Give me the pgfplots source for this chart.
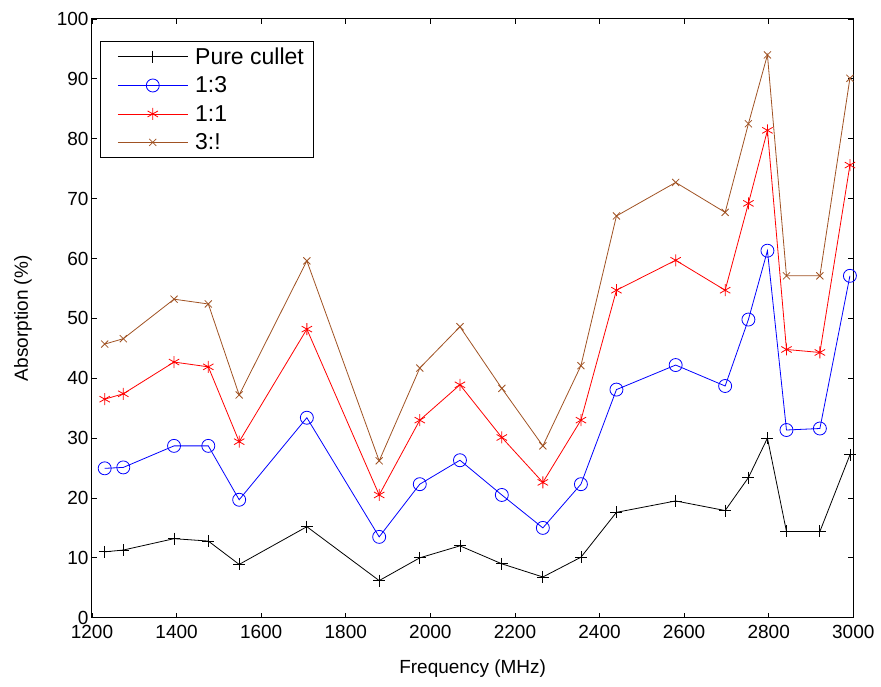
\documentclass[border=0pt]{standalone}
\usepackage{pgfplots}
\usepackage{pgfplotstable}
\pgfplotsset{compat=1.18}
\usepackage{fontspec}
\setmainfont{Liberation Sans}
\definecolor{brownc}{RGB}{160,82,35}
\pgfplotstableread{
f     pure   a    b    c
1230  11.0  24.95 36.5 45.7
1274  11.3  25.1  37.4 46.6
1394  13.2  28.7  42.7 53.2
1475  12.8  28.7  41.9 52.4
1548  8.9   19.7  29.4 37.2
1708  15.2  33.4  48.2 59.6
1879  6.2   13.5  20.5 26.2
1975  10.0  22.3  33.0 41.7
2070  12.0  26.3  38.9 48.6
2169  9.0   20.5  30.1 38.3
2266  6.8   15.0  22.6 28.7
2356  10.1  22.3  33.0 42.1
2440  17.6  38.1  54.7 67.1
2580  19.5  42.2  59.7 72.7
2697  17.9  38.7  54.7 67.7
2752  23.4  49.8  69.2 82.5
2797  30.0  61.3  81.4 94.0
2842  14.4  31.35 44.8 57.1
2921  14.4  31.6  44.3 57.1
2992  27.2  57.1  75.6 90.1
}\datatable
\begin{document}
\begin{tikzpicture}
\begin{axis}[
  scale only axis,
  width=761.3pt, height=598.7pt,
  xmin=1200, xmax=3000, ymin=0, ymax=100,
  xtick={1200,1400,...,3000},
  ytick={0,10,...,100},
  tick align=inside,
  major tick length=5pt,
  tick style={black, line width=0.8pt},
  axis line style={line width=1pt},
  /pgf/number format/assume math mode=true,
  /pgf/number format/set thousands separator={},
  tick label style={font=\fontsize{19}{22}\selectfont},
  xticklabel style={yshift=-4pt},
  label style={font=\fontsize{19}{22}\selectfont},
  xlabel={Frequency (MHz)},
  ylabel={Absorption (\%)},
  xlabel style={yshift=-14pt},
  ylabel style={yshift=18pt},
  legend style={at={(0.0105,0.963)}, anchor=north west, draw=black, line width=0.8pt,
    font=\fontsize{23}{27}\selectfont, row sep=7pt, inner xsep=8pt, inner ysep=4pt},
  legend cell align=left,
  legend image code/.code={
    \path (0pt,0pt) (84pt,0pt);
    \draw[mark repeat=2,mark phase=2] plot coordinates {(9pt,0pt) (44pt,0pt) (79pt,0pt)};
  },
  every axis plot/.append style={line width=0.8pt},
]
\addplot[black, mark=+, mark size=6pt] table[x=f,y=pure] {\datatable};
\addlegendentry{Pure cullet}
\addplot[blue, mark=o, mark size=6.5pt] table[x=f,y=a] {\datatable};
\addlegendentry{1:3}
\addplot[red, mark=asterisk, mark size=6pt] table[x=f,y=b] {\datatable};
\addlegendentry{1:1}
\addplot[brownc, mark=x, mark size=5pt] table[x=f,y=c] {\datatable};
\addlegendentry{3:!}
\end{axis}
\pgfresetboundingbox
\path[use as bounding box] (-92pt,-68.3pt) rectangle (789pt,617.7pt);
\end{tikzpicture}
\end{document}
